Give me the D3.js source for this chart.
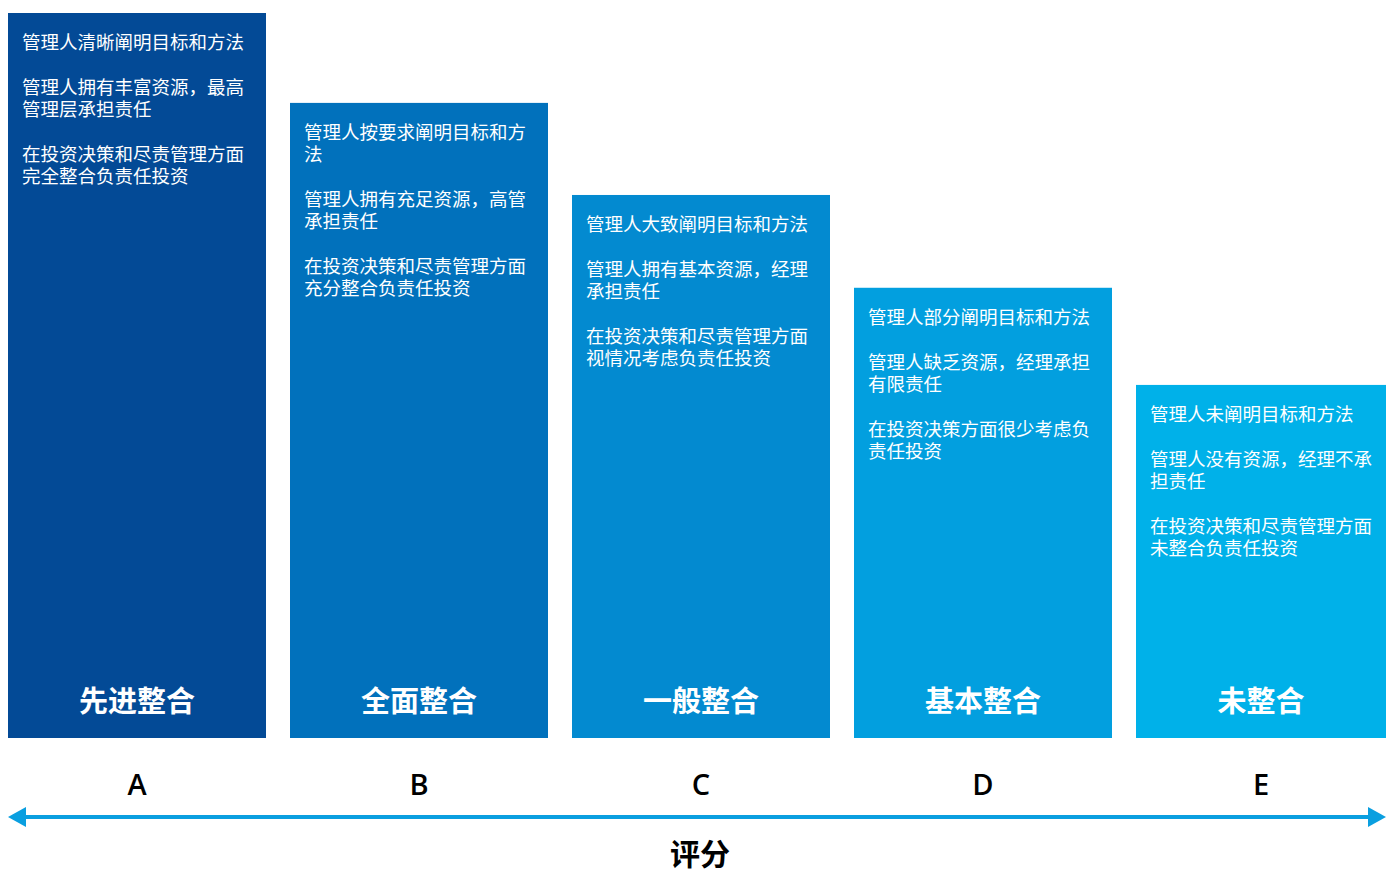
<!DOCTYPE html>
<html>
<head>
<meta charset="utf-8">
<script src="https://cdn.jsdelivr.net/npm/d3@7"></script>
<style>
  body { margin: 0; background: #fff; }
  svg { display: block; font-family: "Noto Sans CJK SC", "Noto Sans", sans-serif; }
</style>
</head>
<body>
<div id="chart"></div>
<script>
// ratings A..E
const grades = ["A", "B", "C", "D", "E"];
const levels = ["先进整合", "全面整合", "一般整合", "基本整合", "未整合"];
// relative bar height (A = 100)
const scores = [100, 87.6, 74.9, 62.1, 48.7];
const barColors = ["#034a96", "#0171bc", "#038ad0", "#029fdf", "#00b1e9"];

// description paragraphs, one array of lines per paragraph
const descriptions = [
  [["管理人清晰阐明目标和方法"], ["管理人拥有丰富资源，最高", "管理层承担责任"], ["在投资决策和尽责管理方面", "完全整合负责任投资"]],
  [["管理人按要求阐明目标和方", "法"], ["管理人拥有充足资源，高管", "承担责任"], ["在投资决策和尽责管理方面", "充分整合负责任投资"]],
  [["管理人大致阐明目标和方法"], ["管理人拥有基本资源，经理", "承担责任"], ["在投资决策和尽责管理方面", "视情况考虑负责任投资"]],
  [["管理人部分阐明目标和方法"], ["管理人缺乏资源，经理承担", "有限责任"], ["在投资决策方面很少考虑负", "责任投资"]],
  [["管理人未阐明目标和方法"], ["管理人没有资源，经理不承", "担责任"], ["在投资决策和尽责管理方面", "未整合负责任投资"]]
];
const axisTitle = "评分";

const width = 1386, height = 873;
const baseY = 738;

const svg = d3.select("#chart").append("svg")
  .attr("width", width)
  .attr("height", height);

const x = d3.scaleBand()
  .domain(grades)
  .range([8, 1394])
  .paddingInner(24 / 282)
  .paddingOuter(0);

const y = d3.scaleLinear()
  .domain([0, 100])
  .range([baseY, 13]);

const data = grades.map((g, i) => ({
  grade: g, level: levels[i], score: scores[i], color: barColors[i], desc: descriptions[i]
}));

const bars = svg.selectAll(".bar")
  .data(data)
  .enter()
  .append("g")
  .attr("class", "bar");

bars.append("rect")
  .attr("x", d => x(d.grade))
  .attr("y", d => y(d.score))
  .attr("width", x.bandwidth())
  .attr("height", d => baseY - y(d.score))
  .attr("fill", d => d.color);

// description text inside the bars
const lineH = 22, paraGap = 23;
bars.each(function (d) {
  const g = d3.select(this);
  let ty = y(d.score) + 36;
  d.desc.forEach(para => {
    para.forEach(line => {
      g.append("text")
        .attr("x", x(d.grade) + 14)
        .attr("y", ty)
        .attr("fill", "#ffffff")
        .style("font-size", "18.5px")
        .text(line);
      ty += lineH;
    });
    ty += paraGap;
  });
});

// visible centre of each bar (E is cut by the page edge)
const centre = d => (x(d.grade) + Math.min(x(d.grade) + x.bandwidth(), width)) / 2;

bars.append("text")
  .attr("x", d => centre(d))
  .attr("y", 712)
  .attr("text-anchor", "middle")
  .attr("fill", "#ffffff")
  .style("font-size", "29px")
  .style("font-weight", "bold")
  .text(d => d.level);

bars.append("text")
  .attr("x", d => centre(d))
  .attr("y", 795)
  .attr("text-anchor", "middle")
  .attr("fill", "#000000")
  .style("font-family", "'Open Sans', 'Noto Sans', sans-serif")
  .style("font-size", "29px")
  .style("font-weight", "600")
  .text(d => d.grade);

// double-headed score arrow
const arrowY = 817;
const arrowColor = "#0a9fe0";
svg.append("line")
  .attr("x1", 20)
  .attr("x2", width - 14)
  .attr("y1", arrowY)
  .attr("y2", arrowY)
  .attr("stroke", arrowColor)
  .attr("stroke-width", 4);

svg.append("path")
  .attr("d", d3.line()([[8, arrowY], [26, arrowY - 10], [26, arrowY + 10]]) + "Z")
  .attr("fill", arrowColor);
svg.append("path")
  .attr("d", d3.line()([[width, arrowY], [width - 18, arrowY - 10], [width - 18, arrowY + 10]]) + "Z")
  .attr("fill", arrowColor);

svg.append("text")
  .attr("x", 700)
  .attr("y", 865)
  .attr("text-anchor", "middle")
  .attr("fill", "#000000")
  .style("font-size", "30px")
  .style("font-weight", "bold")
  .text(axisTitle);
</script>
</body>
</html>
